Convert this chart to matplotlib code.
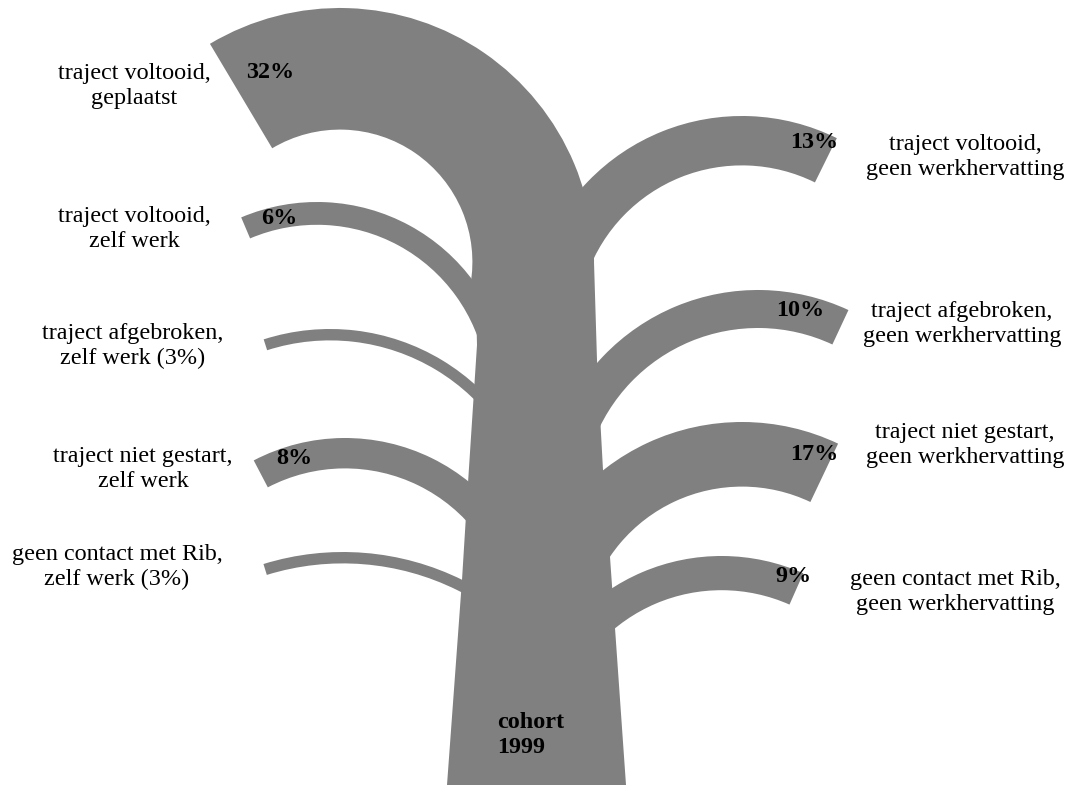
import matplotlib
matplotlib.use("Agg")
import matplotlib.pyplot as plt
from matplotlib.patches import Wedge, Polygon

# ---------------- data ----------------
left_labels = ["traject voltooid,\ngeplaatst",
               "traject voltooid,\nzelf werk",
               "traject afgebroken,\nzelf werk (3%)",
               "traject niet gestart,\nzelf werk",
               "geen contact met Rib,\nzelf werk (3%)"]
left_values = [32, 6, 3, 8, 3]
left_show_pct = [True, True, False, True, False]

right_labels = ["traject voltooid,\ngeen werkhervatting",
                "traject afgebroken,\ngeen werkhervatting",
                "traject niet gestart,\ngeen werkhervatting",
                "geen contact met Rib,\ngeen werkhervatting"]
right_values = [13, 10, 17, 9]
right_show_pct = [True, True, True, True]

trunk_label = "cohort\n1999"

# ---------------- layout (pixel coordinates, y downward) ----------------
W, H = 1073, 785
PX_PER_PCT = 3.8
GRAY = "#808080"
FONT = "Liberation Serif"
FS = 17.4

# branch arcs: centre x, centre y, outer radius, free-end angle, trunk-end angle
left_geom = [(340, 262, 254, 120.8, -10),
             (317, 396, 194, 113.0, 10),
             (330, 546, 217, 107.8, 10),
             (345, 635, 197, 117.6, 10),
             (343, 821, 269, 107.2, 20)]
right_geom = [(742, 330, 214, 63.7, 160),
              (758, 504, 214, 65.0, 160),
              (742, 646, 224, 64.6, 165),
              (721.5, 758, 202, 66.1, 160)]

left_text_pos = [(134, 86), (134, 229), (133, 346), (143, 469), (117, 567)]
right_text_pos = [(965, 157), (962, 324), (965, 445), (955, 592)]
left_pct_pos = [(270, 72), (279, 218), None, (294, 458), None]
right_pct_pos = [(814, 143), (800, 311), (814, 455), (793, 576)]

trunk_left = [(447, 785), (462, 580), (468, 483), (477, 345), (475, 262)]
trunk_right = [(594, 262), (597, 360), (603, 470), (610, 557), (615, 628), (626, 785)]
trunk_text_pos = (497, 735)

# ---------------- drawing ----------------
fig = plt.figure(figsize=(W / 100, H / 100), dpi=100)
ax = fig.add_axes([0, 0, 1, 1])
ax.set_xlim(0, W)
ax.set_ylim(H, 0)
ax.set_aspect("equal")
ax.axis("off")

ax.add_patch(Polygon(trunk_left + trunk_right, closed=True,
                     facecolor=GRAY, edgecolor="none"))


def branch(geom, value):
    cx, cy, r, a_free, a_trunk = geom
    width = value * PX_PER_PCT
    # y axis is inverted, so math angles are negated
    t1, t2 = sorted([-a_free, -a_trunk])
    ax.add_patch(Wedge((cx, cy), r, t1, t2, width=width,
                       facecolor=GRAY, edgecolor="none"))


for g, v in zip(left_geom, left_values):
    branch(g, v)
for g, v in zip(right_geom, right_values):
    branch(g, v)

for lab, pos in zip(left_labels, left_text_pos):
    ax.text(pos[0], pos[1], lab, ha="center", va="center", family=FONT,
            fontsize=FS, linespacing=1.22)
for lab, pos in zip(right_labels, right_text_pos):
    ax.text(pos[0], pos[1], lab, ha="center", va="center", family=FONT,
            fontsize=FS, linespacing=1.22)

for v, show, pos in zip(left_values, left_show_pct, left_pct_pos):
    if show and pos is not None:
        ax.text(pos[0], pos[1], f"{v}%", ha="center", va="center",
                family=FONT, fontsize=FS, fontweight="bold")
for v, show, pos in zip(right_values, right_show_pct, right_pct_pos):
    if show and pos is not None:
        ax.text(pos[0], pos[1], f"{v}%", ha="center", va="center",
                family=FONT, fontsize=FS, fontweight="bold")

ax.text(trunk_text_pos[0], trunk_text_pos[1], trunk_label, ha="left",
        va="center", family=FONT, fontsize=FS, fontweight="bold",
        linespacing=1.2)

fig.savefig("out.png", dpi=100)
